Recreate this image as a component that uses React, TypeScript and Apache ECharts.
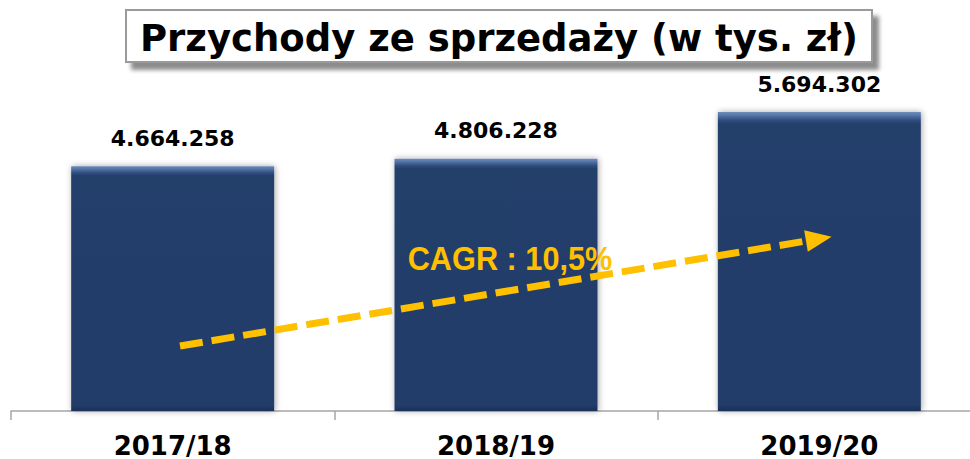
import React, { useEffect, useRef } from "react";
import * as echarts from "echarts";

const categories = ["2017/18", "2018/19", "2019/20"];
const revenues = [4664258, 4806228, 5694302];
const titleText = "Przychody ze sprzedaży (w tys. zł)";
const cagrText = "CAGR : 10,5%";

const fmt = (v: number) => String(v).replace(/\B(?=(\d{3})+(?!\d))/g, ".");

export default function App() {
  const ref = useRef<HTMLDivElement>(null);
  useEffect(() => {
    if (!ref.current) return;
    const chart = echarts.init(ref.current, undefined, { renderer: "svg" });
    const ax = 180, ay = 346, bx = 806, by = 241;
    const dx = bx - ax, dy = by - ay;
    const len = Math.sqrt(dx * dx + dy * dy);
    const ux = dx / len, uy = dy / len;
    const nx = -uy, ny = ux;
    const headLen = 26, headHalf = 11;
    const tip = [bx + ux * headLen, by + uy * headLen];
    chart.setOption({
      animation: false,
      backgroundColor: "#ffffff",
      grid: { left: 11, right: 9, top: 96, bottom: 48, containLabel: false },
      xAxis: {
        type: "category",
        data: categories,
        axisLine: { lineStyle: { color: "#a6a6a6", width: 1.5 } },
        axisTick: { show: true, length: 9, lineStyle: { color: "#a6a6a6", width: 1.5 } },
        axisLabel: {
          margin: 23,
          color: "#000000",
          fontFamily: "DejaVu Sans",
          fontWeight: "bold",
          fontSize: 26,
          lineHeight: 23,
        },
      },
      yAxis: {
        type: "value",
        min: 0,
        max: 6000000,
        show: false,
        splitLine: { show: false },
      },
      series: [
        {
          type: "bar",
          data: revenues,
          barWidth: 203,
          itemStyle: {
            color: new echarts.graphic.LinearGradient(0, 0, 0, 1, [
              { offset: 0, color: "#6f8dbb" },
              { offset: 0.012, color: "#5373a5" },
              { offset: 0.028, color: "#2f4d7e" },
              { offset: 0.04, color: "#243f6b" },
              { offset: 0.975, color: "#233d69" },
              { offset: 1, color: "#1b3158" },
            ]),
            shadowBlur: 6,
            shadowColor: "rgba(0,0,0,0.35)",
            shadowOffsetX: 1,
            shadowOffsetY: 0,
          },
          label: {
            show: true,
            position: "top",
            distance: 17,
            color: "#000000",
            fontFamily: "DejaVu Sans",
            fontWeight: "bold",
            fontSize: 22,
            formatter: (p: any) => fmt(p.value),
          },
        },
      ],
      graphic: [
        {
          type: "rect",
          z: 100,
          shape: { x: 126, y: 10, width: 746, height: 52 },
          style: {
            fill: "#ffffff",
            stroke: "#9a9a9a",
            lineWidth: 2,
            shadowBlur: 4,
            shadowOffsetX: 6,
            shadowOffsetY: 7,
            shadowColor: "rgba(0,0,0,0.45)",
          },
        },
        {
          type: "text",
          z: 101,
          x: 499,
          y: 38,
          style: {
            text: titleText,
            fill: "#000000",
            font: "bold 37px 'DejaVu Sans'",
            align: "center",
            verticalAlign: "middle",
          },
        },
        {
          type: "text",
          z: 100,
          x: 510,
          y: 259,
          scaleX: 0.93,
          style: {
            text: cagrText,
            fill: "#FFC000",
            font: "bold 33px 'Liberation Sans'",
            align: "center",
            verticalAlign: "middle",
          },
        },
        {
          type: "line",
          z: 101,
          shape: { x1: ax, y1: ay, x2: bx, y2: by },
          style: { stroke: "#FFC000", lineWidth: 7, lineDash: [23, 9], lineCap: "butt" },
        },
        {
          type: "polygon",
          z: 101,
          shape: {
            points: [
              tip,
              [bx + nx * headHalf, by + ny * headHalf],
              [bx - nx * headHalf, by - ny * headHalf],
            ],
          },
          style: { fill: "#FFC000" },
        },
      ],
    });
    return () => chart.dispose();
  }, []);
  return (
    <div style={{ position: "absolute", left: 0, top: 0, width: 970, height: 459, overflow: "hidden" }}>
      <div ref={ref} style={{ width: 990, height: 459 }} />
    </div>
  );
}
